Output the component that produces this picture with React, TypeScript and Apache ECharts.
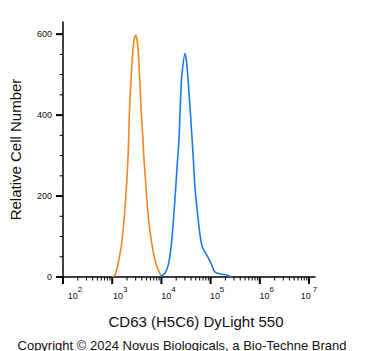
import React, { useEffect, useRef } from "react";
import * as echarts from "echarts";

// Isotype control (orange) histogram
const orangeX = [980, 1140, 1330, 1560, 1760, 1970, 2120, 2200, 2300, 2490, 2690, 3000, 3240, 3510, 3850, 4170, 4370, 4800, 5420, 6350, 7410, 8650, 10100];
const orangeY = [0, 5, 35, 84, 148, 232, 309, 375, 442, 516, 573, 598, 581, 523, 417, 351, 301, 232, 148, 84, 42, 17, 0];

// CD63 (H5C6) DyLight 550 (blue) histogram
const blueX = [9370, 11830, 13800, 15670, 17450, 19530, 21440, 22790, 23890, 25010, 25860, 30180, 32680, 35220, 38130, 41290, 44470, 48200, 54690, 60930, 67800, 76920, 89780, 105200, 122800, 168200, 212400, 268500];
const blueY = [0, 10, 30, 72, 136, 220, 295, 338, 405, 462, 495, 552, 528, 479, 420, 356, 294, 220, 153, 104, 74, 62, 47, 30, 12, 7, 5, 0];

const xMajorTicks = [1e2, 1e3, 1e4, 1e5, 1e6, 1e7];
const xMinorMultipliers = [2, 3, 4, 5, 6, 7, 8, 9];
const yMajorTicks = [0, 200, 400, 600];
const yMinorTicks = [50, 100, 150, 250, 300, 350, 450, 500, 550];

const xTitle = "CD63 (H5C6) DyLight 550";
const yTitle = "Relative Cell Number";
const copyright = "Copyright © 2024 Novus Biologicals, a Bio-Techne Brand";

const FONT = '"Liberation Sans", Arial, sans-serif';

export default function App() {
  const ref = useRef<HTMLDivElement>(null);
  useEffect(() => {
    if (!ref.current) return;
    const chart = echarts.init(ref.current, undefined, { renderer: "svg" });

    const xTickData: number[][] = [];
    xMajorTicks.forEach((v) => xTickData.push([v, 0, 1]));
    xMajorTicks.slice(0, -1).forEach((v) =>
      xMinorMultipliers.forEach((m) => xTickData.push([v * m, 0, 0]))
    );
    const yTickData: number[][] = [];
    yMajorTicks.forEach((v) => yTickData.push([100, v, 1]));
    yMinorTicks.forEach((v) => yTickData.push([100, v, 0]));

    const labelPad: Record<number, number[]> = {
      2: [0, 0, 0, 24],
      3: [0, 0, 0, 16],
      4: [0, 0, 0, 14],
      5: [0, 0, 0, 13],
      6: [0, 0, 0, 14],
      7: [0, 2, 0, 0],
    };
    const rich: Record<string, any> = {
      s: { fontSize: 8, fontFamily: FONT, color: "#111", verticalAlign: "top", lineHeight: 15 },
    };
    Object.keys(labelPad).forEach((k) => {
      rich["b" + k] = {
        fontSize: 9,
        fontFamily: FONT,
        color: "#111",
        verticalAlign: "bottom",
        lineHeight: 15,
        padding: labelPad[Number(k)],
      };
    });

    chart.setOption({
      animation: false,
      grid: { left: 63, right: 56, top: 22, bottom: 74, outerBoundsMode: "none" },
      xAxis: {
        type: "log",
        logBase: 10,
        min: 100,
        max: 13240000,
        name: xTitle,
        nameLocation: "middle",
        nameGap: 37,
        nameTextStyle: { fontSize: 15, fontFamily: FONT, color: "#111", padding: [0, 0, 0, 14] },
        axisLine: { show: true, lineStyle: { color: "#000", width: 1.5 } },
        axisTick: { show: false },
        minorTick: { show: false },
        splitLine: { show: false },
        axisLabel: {
          margin: 8,
          rich,
          formatter: (v: number) => {
            const l = Math.log10(v);
            const e = Math.round(l);
            if (Math.abs(l - e) > 1e-6 || !labelPad[e]) return "";
            return `{b${e}|10}{s|${e}}`;
          },
        },
      },
      yAxis: {
        type: "value",
        min: 0,
        max: 630,
        interval: 200,
        name: yTitle,
        nameLocation: "middle",
        nameGap: 40,
        nameTextStyle: { fontSize: 15, fontFamily: FONT, color: "#111" },
        axisLine: { show: true, lineStyle: { color: "#000", width: 1.5 } },
        axisTick: { show: false },
        splitLine: { show: false },
        axisLabel: {
          margin: 11,
          fontSize: 9,
          fontFamily: FONT,
          color: "#111",
          formatter: (v: number) => (v % 200 === 0 ? String(v) : ""),
        },
      },
      graphic: [
        {
          type: "text",
          x: 182,
          y: 345,
          style: {
            text: copyright,
            font: `13px ${FONT}`,
            fill: "#111",
            align: "center",
            verticalAlign: "middle",
            textAlign: "center",
            textVerticalAlign: "middle",
          },
        },
      ],
      series: [
        {
          type: "line",
          data: orangeX.map((x, i) => [x, orangeY[i]]),
          showSymbol: false,
          symbol: "none",
          smooth: 0.3,
          clip: false,
          lineStyle: { color: "#F5851F", width: 1.6 },
          z: 3,
        },
        {
          type: "line",
          data: blueX.map((x, i) => [x, blueY[i]]),
          showSymbol: false,
          symbol: "none",
          smooth: 0.3,
          clip: false,
          lineStyle: { color: "#1E7BE4", width: 1.6 },
          z: 3,
        },
        {
          type: "custom",
          silent: true,
          clip: false,
          z: 5,
          data: xTickData,
          renderItem: (params: any, api: any) => {
            const p = api.coord([api.value(0), api.value(1)]);
            const major = api.value(2) === 1;
            return {
              type: "line",
              shape: { x1: p[0], y1: p[1], x2: p[0], y2: p[1] + (major ? 7 : 3.5) },
              style: { stroke: "#000", lineWidth: major ? 2 : 1 },
            };
          },
        },
        {
          type: "custom",
          silent: true,
          clip: false,
          z: 5,
          data: yTickData,
          renderItem: (params: any, api: any) => {
            const p = api.coord([api.value(0), api.value(1)]);
            const major = api.value(2) === 1;
            return {
              type: "line",
              shape: { x1: p[0] - (major ? 7 : 3.5), y1: p[1], x2: p[0], y2: p[1] },
              style: { stroke: "#000", lineWidth: major ? 2 : 1 },
            };
          },
        },
      ],
    });
    return () => chart.dispose();
  }, []);
  return (
    <div
      ref={ref}
      style={{ position: "absolute", left: 0, top: 0, width: 371, height: 351 }}
    />
  );
}
